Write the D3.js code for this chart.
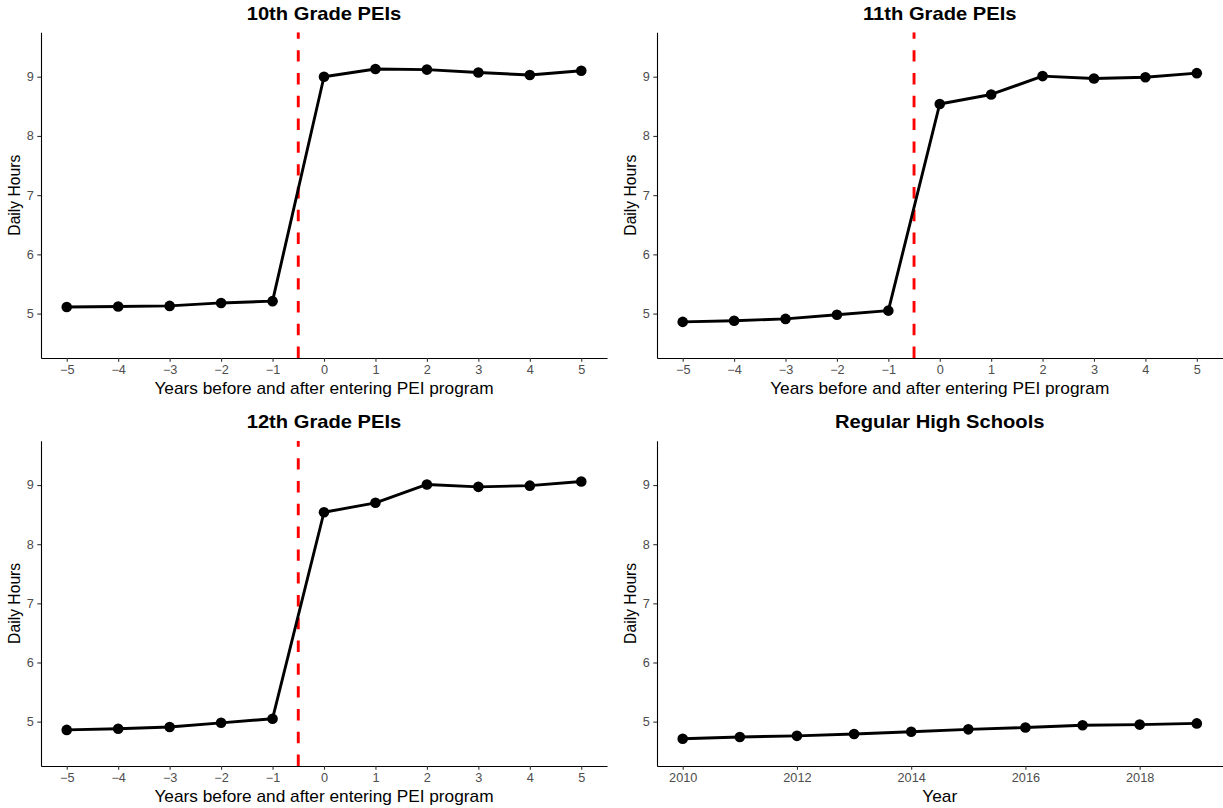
<!DOCTYPE html>
<html>
<head>
<meta charset="utf-8">
<script src="https://cdn.jsdelivr.net/npm/d3@7"></script>
<style>
  html, body { margin: 0; padding: 0; background: #fff; }
  svg { display: block; }
  text { font-family: "Liberation Sans", Arial, Helvetica, sans-serif; }
</style>
</head>
<body>
<svg id="chart" width="1223" height="808"></svg>
<script>
// ---- data ----
const eventYears = [-5, -4, -3, -2, -1, 0, 1, 2, 3, 4, 5];
const grade10Hours = [5.11, 5.12, 5.13, 5.18, 5.21, 9.00, 9.13, 9.12, 9.07, 9.03, 9.10];
const grade11Hours = [4.86, 4.88, 4.91, 4.98, 5.05, 8.54, 8.70, 9.01, 8.97, 8.99, 9.06];
const grade12Hours = [4.86, 4.88, 4.91, 4.98, 5.05, 8.54, 8.70, 9.01, 8.97, 8.99, 9.06];
const calendarYears = [2010, 2011, 2012, 2013, 2014, 2015, 2016, 2017, 2018, 2019];
const regularHours = [4.71, 4.74, 4.76, 4.79, 4.83, 4.87, 4.90, 4.94, 4.95, 4.97];
const yTicks = [5, 6, 7, 8, 9];
const eventTicks = [-5, -4, -3, -2, -1, 0, 1, 2, 3, 4, 5];
const yearTicks = [2010, 2012, 2014, 2016, 2018];
const programStart = -0.5;
const panelTitles = ["10th Grade PEIs", "11th Grade PEIs", "12th Grade PEIs", "Regular High Schools"];
const eventXLabel = "Years before and after entering PEI program";
const yearXLabel = "Year";
const yLabel = "Daily Hours";

// ---- layout ----
const svg = d3.select("#chart");
const cols = [{ left: 41, right: 607 }, { left: 657, right: 1222.5 }];
const rows = [{ top: 32.3, bottom: 358 }, { top: 440.7, bottom: 766 }];

const panels = [
  { title: panelTitles[0], xs: eventYears, ys: grade10Hours, ticks: eventTicks, xlab: eventXLabel, vline: true, col: 0, row: 0 },
  { title: panelTitles[1], xs: eventYears, ys: grade11Hours, ticks: eventTicks, xlab: eventXLabel, vline: true, col: 1, row: 0 },
  { title: panelTitles[2], xs: eventYears, ys: grade12Hours, ticks: eventTicks, xlab: eventXLabel, vline: true, col: 0, row: 1 },
  { title: panelTitles[3], xs: calendarYears, ys: regularHours, ticks: yearTicks, xlab: yearXLabel, vline: false, col: 1, row: 1 }
];

function expand(lo, hi, f) { const d = (hi - lo) * f; return [lo - d, hi + d]; }

const tickStretch = 1.06, labStretch = 1.1, titleStretch = 1.12;

panels.forEach(p => {
  const c = cols[p.col], r = rows[p.row];
  const xExt = d3.extent(p.xs);
  const x = d3.scaleLinear().domain(expand(xExt[0], xExt[1], 0.05)).range([c.left, c.right]);
  const y = d3.scaleLinear().domain(expand(4.5, 9.5, 0.05)).range([r.bottom, r.top]);
  const g = svg.append("g");

  const clipId = "clip" + p.col + p.row;
  svg.append("clipPath").attr("id", clipId).append("rect")
    .attr("x", c.left).attr("y", r.top).attr("width", c.right - c.left).attr("height", r.bottom - r.top);

  const plot = g.append("g").attr("clip-path", `url(#${clipId})`);

  if (p.vline) {
    plot.append("line")
      .attr("x1", x(programStart)).attr("x2", x(programStart))
      .attr("y1", r.bottom).attr("y2", r.top)
      .attr("stroke", "#FF0000").attr("stroke-width", 2.9)
      .attr("stroke-dasharray", "11.4,11.4");
  }

  const data = p.xs.map((v, i) => [v, p.ys[i]]);
  plot.append("path")
    .datum(data)
    .attr("fill", "none").attr("stroke", "#000").attr("stroke-width", 2.9)
    .attr("stroke-linejoin", "round")
    .attr("d", d3.line().x(d => x(d[0])).y(d => y(d[1])));
  plot.selectAll("circle.pt").data(data).enter().append("circle")
    .attr("cx", d => x(d[0])).attr("cy", d => y(d[1])).attr("r", 5.3).attr("fill", "#000");

  const fmt = d3.format("d");
  const xAxis = d3.axisBottom(x).tickValues(p.ticks).tickSize(3.7).tickSizeOuter(0).tickPadding(3.5)
    .tickFormat(v => (v < 0 ? "\u2212" + Math.abs(v) : fmt(v)));
  const yAxis = d3.axisLeft(y).tickValues(yTicks).tickSize(3.7).tickSizeOuter(0).tickPadding(3.5).tickFormat(fmt);

  const gx = g.append("g").attr("transform", `translate(0,${r.bottom})`).call(xAxis);
  const gy = g.append("g").attr("transform", `translate(${c.left},0)`).call(yAxis);
  [gx, gy].forEach(a => {
    a.select(".domain").attr("stroke", "#000").attr("stroke-width", 1.1);
    a.selectAll(".tick line").attr("stroke", "#333").attr("stroke-width", 1.1);
    a.selectAll(".tick text").attr("fill", "#4D4D4D").style("font-size", "12px")
      .style("font-family", '"Liberation Sans", Arial, sans-serif');
  });
  gx.selectAll(".tick text").attr("transform", `scale(${tickStretch},1)`);
  gy.selectAll(".tick text").attr("x", -7.2 / tickStretch).attr("transform", `scale(${tickStretch},1)`);

  g.append("text")
    .attr("transform", `translate(${(c.left + c.right) / 2},${r.top - 12.5}) scale(${titleStretch},1)`)
    .attr("text-anchor", "middle").style("font-size", "18px").style("font-weight", "bold")
    .attr("fill", "#000").text(p.title);

  g.append("text")
    .attr("transform", `translate(${(c.left + c.right) / 2},${r.bottom + 36}) scale(${labStretch},1)`)
    .attr("text-anchor", "middle").style("font-size", "15.7px")
    .attr("fill", "#000").text(p.xlab);

  g.append("text")
    .attr("transform", `translate(${c.left - 21},${(r.top + r.bottom) / 2}) rotate(-90)`)
    .attr("text-anchor", "middle").style("font-size", "15.7px")
    .attr("fill", "#000").text(yLabel);
});
</script>
</body>
</html>
